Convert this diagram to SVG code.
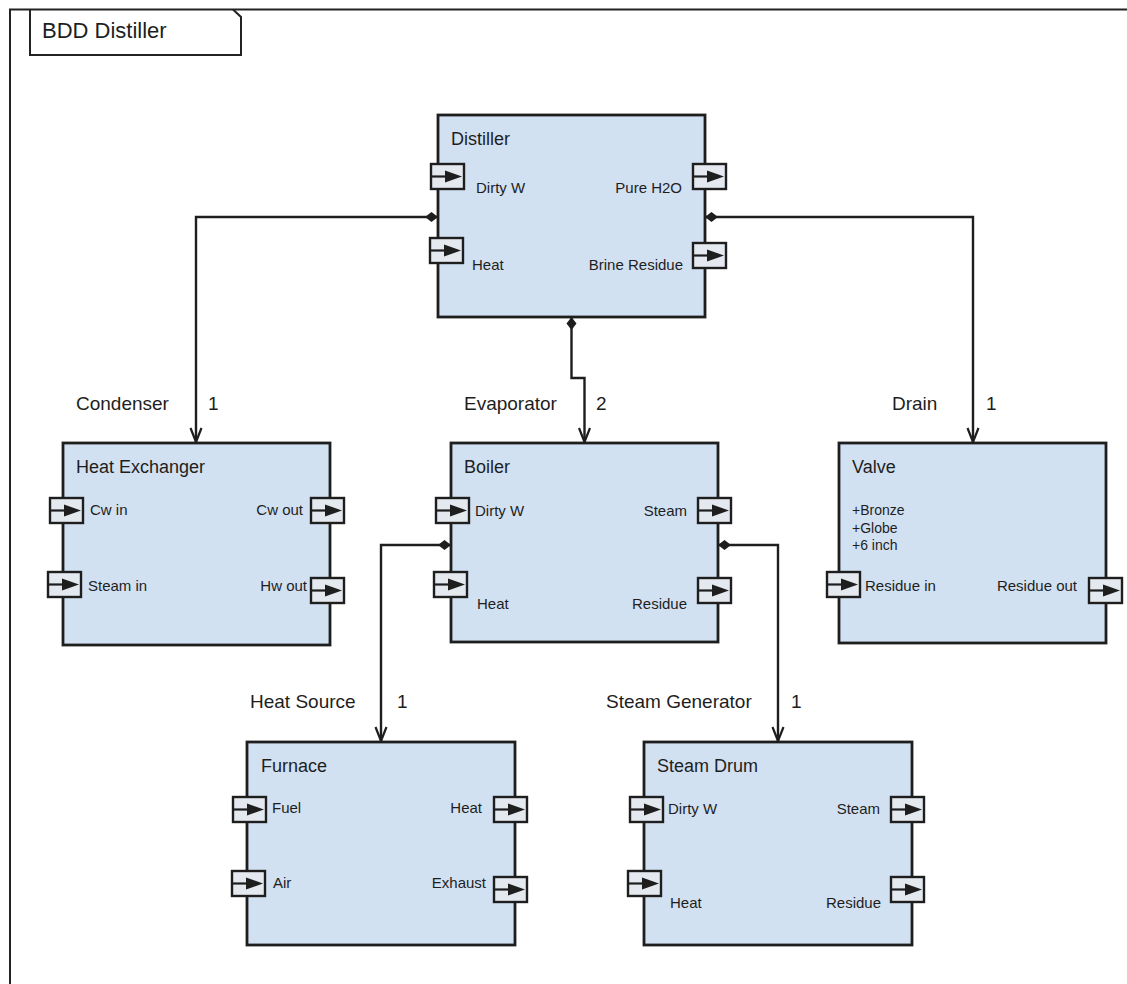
<svg xmlns="http://www.w3.org/2000/svg" xmlns:xlink="http://www.w3.org/1999/xlink" width="1127" height="984" viewBox="0 0 1127 984">
<style>
text{font-family:"Liberation Sans",Arial,sans-serif;fill:#1e1e1e}
.frame{fill:none;stroke:#222;stroke-width:2}
.block{fill:#d2e1f2;stroke:#1e1e1e;stroke-width:2.8}
.title{font-size:18px}
.pl{font-size:15px}
.pr{font-size:15px;text-anchor:end}
.attr{font-size:14px}
.cl{font-size:19px}
.conn{fill:none;stroke:#1e1e1e;stroke-width:2.4;marker-start:url(#dia);marker-end:url(#arr)}
</style>
<defs>
<g id="port">
<rect x="0" y="0" width="33" height="25" fill="#e4e9ef" stroke="#1e1e1e" stroke-width="2.4"/>
<line x1="0" y1="12.5" x2="18" y2="12.5" stroke="#1e1e1e" stroke-width="2.2"/>
<path d="M14,6.5 L31,12.5 L14,18.5 Z" fill="#1e1e1e"/>
</g>
<marker id="dia" markerUnits="userSpaceOnUse" viewBox="-1 -7 16 14" refX="0" refY="0" markerWidth="16" markerHeight="14" orient="auto" overflow="visible">
<path d="M0,0 L6.5,-5 L13,0 L6.5,5 Z" fill="#1e1e1e"/>
</marker>
<marker id="arr" markerUnits="userSpaceOnUse" viewBox="-15 -7 17 14" refX="0" refY="0" markerWidth="17" markerHeight="14" orient="auto" overflow="visible">
<path d="M-14,-5.5 L0,0 L-14,5.5" fill="none" stroke="#1e1e1e" stroke-width="2.2"/>
</marker>
</defs>
<rect width="1127" height="984" fill="#ffffff"/>
<g id="frame">
<path class="frame" d="M10,990 V9.5 H1130"/>
<path class="frame" d="M30,9.5 V55 H241 V17 L233,9.5"/>
<text x="42" y="38" style="font-size:22px">BDD Distiller</text>
</g>
<g id="connectors">
<path class="conn" d="M438,217 H196 V442"/>
<path class="conn" d="M705,217 H973 V442"/>
<path class="conn" d="M571.5,317 V378 H584.5 V442"/>
<path class="conn" d="M451,545 H381 V741"/>
<path class="conn" d="M718,545 H778 V741"/>
<text class="cl" x="76" y="410">Condenser</text>
<text class="cl" x="208" y="410">1</text>
<text class="cl" x="464" y="410">Evaporator</text>
<text class="cl" x="596" y="410">2</text>
<text class="cl" x="892" y="410">Drain</text>
<text class="cl" x="986" y="410">1</text>
<text class="cl" x="250" y="708">Heat Source</text>
<text class="cl" x="397" y="708">1</text>
<text class="cl" x="606" y="708">Steam Generator</text>
<text class="cl" x="791" y="708">1</text>
</g>
<g id="distiller">
<rect class="block" x="438" y="115" width="267" height="202"/>
<text class="title" x="451" y="145">Distiller</text>
<use xlink:href="#port" x="431" y="164"/>
<use xlink:href="#port" x="430" y="238"/>
<use xlink:href="#port" x="693" y="164"/>
<use xlink:href="#port" x="693" y="243"/>
<text class="pl" x="476" y="193">Dirty W</text>
<text class="pl" x="472" y="270">Heat</text>
<text class="pr" x="682" y="193">Pure H2O</text>
<text class="pr" x="683" y="270">Brine Residue</text>
</g>
<g id="heat-exchanger">
<rect class="block" x="63" y="443" width="267" height="202"/>
<text class="title" x="76" y="473">Heat Exchanger</text>
<use xlink:href="#port" x="50" y="498"/>
<use xlink:href="#port" x="48" y="572"/>
<use xlink:href="#port" x="311" y="498"/>
<use xlink:href="#port" x="311" y="578"/>
<text class="pl" x="90" y="515">Cw in</text>
<text class="pl" x="88" y="591">Steam in</text>
<text class="pr" x="303" y="515">Cw out</text>
<text class="pr" x="307" y="591">Hw out</text>
</g>
<g id="boiler">
<rect class="block" x="451" y="443" width="267" height="199"/>
<text class="title" x="464" y="473">Boiler</text>
<use xlink:href="#port" x="436" y="498"/>
<use xlink:href="#port" x="434" y="572"/>
<use xlink:href="#port" x="698" y="498"/>
<use xlink:href="#port" x="698" y="578"/>
<text class="pl" x="475" y="516">Dirty W</text>
<text class="pl" x="477" y="609">Heat</text>
<text class="pr" x="687" y="516">Steam</text>
<text class="pr" x="687" y="609">Residue</text>
</g>
<g id="valve">
<rect class="block" x="839" y="443" width="267" height="200"/>
<text class="title" x="852" y="473">Valve</text>
<text class="attr" x="852" y="515">+Bronze</text>
<text class="attr" x="852" y="532.5">+Globe</text>
<text class="attr" x="852" y="550">+6 inch</text>
<use xlink:href="#port" x="827" y="572"/>
<use xlink:href="#port" x="1089" y="578"/>
<text class="pl" x="865" y="591">Residue in</text>
<text class="pr" x="1077" y="591">Residue out</text>
</g>
<g id="furnace">
<rect class="block" x="247" y="742" width="268" height="203"/>
<text class="title" x="261" y="772">Furnace</text>
<use xlink:href="#port" x="233" y="797"/>
<use xlink:href="#port" x="232" y="871"/>
<use xlink:href="#port" x="494" y="797"/>
<use xlink:href="#port" x="494" y="877"/>
<text class="pl" x="272" y="813">Fuel</text>
<text class="pl" x="273" y="888">Air</text>
<text class="pr" x="482" y="813">Heat</text>
<text class="pr" x="486" y="888">Exhaust</text>
</g>
<g id="steam-drum">
<rect class="block" x="644" y="742" width="268" height="203"/>
<text class="title" x="657" y="772">Steam Drum</text>
<use xlink:href="#port" x="630" y="797"/>
<use xlink:href="#port" x="628" y="871"/>
<use xlink:href="#port" x="891" y="797"/>
<use xlink:href="#port" x="891" y="877"/>
<text class="pl" x="668" y="814">Dirty W</text>
<text class="pl" x="670" y="908">Heat</text>
<text class="pr" x="880" y="814">Steam</text>
<text class="pr" x="881" y="908">Residue</text>
</g>
</svg>
